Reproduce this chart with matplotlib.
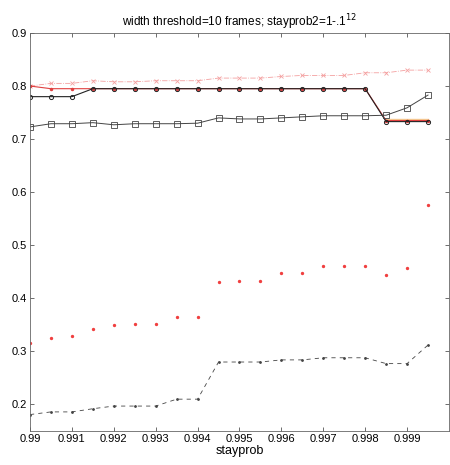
import numpy as np
import matplotlib
matplotlib.use('Agg')
from matplotlib import pyplot as plt

plt.rcParams['font.family'] = ['Liberation Sans', 'DejaVu Sans']

stayprob = [0.99, 0.9905, 0.991, 0.9915, 0.992, 0.9925, 0.993, 0.9935, 0.994, 0.9945,
            0.995, 0.9955, 0.996, 0.9965, 0.997, 0.9975, 0.998, 0.9985, 0.999, 0.9995]

top_x = [0.800, 0.805, 0.805, 0.810, 0.808, 0.808, 0.810, 0.810, 0.810, 0.815,
         0.815, 0.815, 0.818, 0.820, 0.820, 0.820, 0.825, 0.825, 0.830, 0.830]
red_line = [0.800, 0.795, 0.795, 0.795, 0.795, 0.795, 0.795, 0.795, 0.795, 0.795,
            0.795, 0.795, 0.795, 0.795, 0.795, 0.795, 0.795, 0.735, 0.735, 0.735]
black_line = [0.780, 0.780, 0.780, 0.795, 0.795, 0.795, 0.795, 0.795, 0.795, 0.795,
              0.795, 0.795, 0.795, 0.795, 0.795, 0.795, 0.795, 0.733, 0.733, 0.733]
squares = [0.723, 0.729, 0.729, 0.731, 0.727, 0.729, 0.729, 0.729, 0.730, 0.740,
           0.738, 0.738, 0.740, 0.742, 0.744, 0.744, 0.744, 0.745, 0.759, 0.783]
red_dots = [0.316, 0.326, 0.329, 0.343, 0.350, 0.352, 0.352, 0.365, 0.365, 0.431,
            0.433, 0.433, 0.448, 0.448, 0.461, 0.461, 0.461, 0.444, 0.457, 0.576]
dashed = [0.181, 0.186, 0.186, 0.192, 0.197, 0.197, 0.197, 0.210, 0.210, 0.280,
          0.280, 0.280, 0.284, 0.284, 0.288, 0.288, 0.288, 0.277, 0.277, 0.312]

fig = plt.figure(figsize=(4.5, 4.65), dpi=100)
ax = fig.add_axes([0.0667, 0.0731, 0.931, 0.856])

ax.plot(stayprob, top_x, ls='-.', lw=0.6, color='#f4a0a0', marker='x', ms=3, mew=0.6)
ax.plot(stayprob[-3:], [0.737, 0.737, 0.737], color='#f5c890', lw=1.0)
ax.plot(stayprob, red_line, color='#e04040', lw=0.8, marker='.', ms=3)
ax.plot(stayprob, black_line, color='#222222', lw=0.8, marker='o', ms=3,
        mfc='none', mew=0.7)
ax.plot(stayprob, squares, color='#444444', lw=0.7, marker='s', ms=4,
        mfc='none', mew=0.6)
ax.plot(stayprob, red_dots, ls='none', marker='.', ms=2.8, color='#f04040')
ax.plot(stayprob, dashed, ls=(0, (5, 5)), lw=0.6, color='#444444',
        marker='.', ms=2)

ax.set_xlim(0.99, 1.0)
ax.set_ylim(0.15, 0.9)
ax.set_xticks(stayprob[::2])
ax.set_xticklabels(['0.99', '0.991', '0.992', '0.993', '0.994', '0.995',
                    '0.996', '0.997', '0.998', '0.999'])
ax.set_yticks([0.2, 0.3, 0.4, 0.5, 0.6, 0.7, 0.8, 0.9])
ax.set_yticklabels(['0.2', '0.3', '0.4', '0.5', '0.6', '0.7', '0.8', '0.9'])
ax.tick_params(direction='in', length=3, width=0.5, labelsize=8, pad=2,
               top=True, right=True, colors='#333333', labelcolor='black')
for s in ax.spines.values():
    s.set_linewidth(0.6)
    s.set_color('#666666')

ax.set_title('width threshold=10 frames; stayprob2=1-.1$^{12}$', fontsize=8.5, pad=5)
ax.set_xlabel('stayprob', fontsize=9, labelpad=1)

plt.savefig('out.png', dpi=100)
